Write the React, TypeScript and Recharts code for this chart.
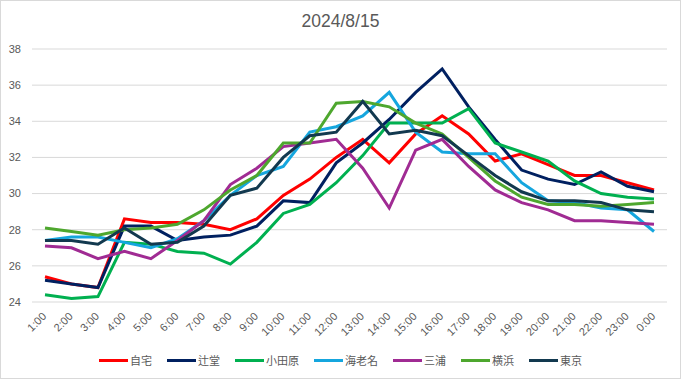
import React from 'react';
import { LineChart, Line, XAxis, YAxis, CartesianGrid } from 'recharts';

const hours = [
  '1:00', '2:00', '3:00', '4:00', '5:00', '6:00', '7:00', '8:00', '9:00', '10:00', '11:00', '12:00',
  '13:00', '14:00', '15:00', '16:00', '17:00', '18:00', '19:00', '20:00', '21:00', '22:00', '23:00', '0:00',
];

const jitaku = [25.4, 25.0, 24.8, 28.6, 28.4, 28.4, 28.3, 28.0, 28.6, 29.9, 30.8, 32.0, 33.0, 31.7, 33.3, 34.3, 33.3, 31.8, 32.2, 31.6, 31.0, 31.0, 30.6, 30.2];
const tsujido = [25.2, 25.0, 24.8, 28.2, 28.2, 27.4, 27.6, 27.7, 28.2, 29.6, 29.5, 31.7, 32.8, 34.1, 35.6, 36.9, 34.8, 33.0, 31.3, 30.8, 30.5, 31.2, 30.4, 30.1];
const odawara = [24.4, 24.2, 24.3, 27.3, 27.2, 26.8, 26.7, 26.1, 27.3, 28.9, 29.4, 30.6, 32.1, 33.9, 33.9, 33.9, 34.7, 32.8, 32.3, 31.8, 30.7, 30.0, 29.8, 29.7];
const ebina = [27.4, 27.6, 27.6, 27.3, 27.0, 27.5, 28.5, 29.9, 31.0, 31.5, 33.4, 33.7, 34.3, 35.6, 33.4, 32.3, 32.2, 32.2, 30.6, 29.6, 29.5, 29.2, 29.1, 27.9];
const miura = [27.1, 27.0, 26.4, 26.8, 26.4, 27.4, 28.5, 30.5, 31.4, 32.6, 32.8, 33.0, 31.4, 29.2, 32.4, 33.0, 31.5, 30.2, 29.5, 29.1, 28.5, 28.5, 28.4, 28.3];
const yokohama = [28.1, 27.9, 27.7, 28.0, 28.1, 28.3, 29.1, 30.2, 31.0, 32.8, 32.8, 35.0, 35.1, 34.8, 33.9, 33.3, 32.0, 30.7, 29.8, 29.4, 29.4, 29.3, 29.4, 29.5];
const tokyo = [27.4, 27.4, 27.2, 28.1, 27.2, 27.3, 28.2, 29.9, 30.3, 32.0, 33.2, 33.4, 35.1, 33.3, 33.5, 33.2, 32.1, 31.0, 30.1, 29.6, 29.6, 29.5, 29.1, 29.0];

const yTicks = [24, 26, 28, 30, 32, 34, 36, 38];

const series = [
  { key: '自宅', values: jitaku, color: '#FF0000' },
  { key: '辻堂', values: tsujido, color: '#002060' },
  { key: '小田原', values: odawara, color: '#00B050' },
  { key: '海老名', values: ebina, color: '#15A6DE' },
  { key: '三浦', values: miura, color: '#A02B93' },
  { key: '横浜', values: yokohama, color: '#4EA72E' },
  { key: '東京', values: tokyo, color: '#12394F' },
];

const data = hours.map((h, i) => {
  const row: Record<string, string | number> = { hour: h };
  series.forEach(s => { row[s.key] = s.values[i]; });
  return row;
});

const font = '"Liberation Sans", Arial, "Noto Sans CJK JP", sans-serif';
const textColor = '#595959';

// rotated hour labels, end of text just under the grid bottom
const HourTick = (props: any) => {
  const { x, y, payload } = props;
  return (
    <g transform={`translate(${x + 2},${y + 7})`}>
      <text
        x={0}
        y={0}
        textAnchor="end"
        transform="rotate(-45)"
        fontSize={11}
        fill={textColor}
        fontFamily={font}
      >
        {payload.value}
      </text>
    </g>
  );
};

const App: React.FC = () => {
  return (
    <div style={{
      position: 'absolute', left: 0, top: 0, width: 681, height: 379,
      boxSizing: 'border-box', border: '1px solid #d9d9d9', background: '#fff', fontFamily: font,
    }}>
      <div style={{
        position: 'absolute', left: 0, right: 0, top: 10, textAlign: 'center',
        fontSize: 17.5, color: textColor,
      }}>
        2024/8/15
      </div>
      <div style={{ position: 'absolute', left: -1, top: -1 }}>
        <LineChart width={681} height={379} data={data} margin={{ top: 49, right: 14, left: 0, bottom: 0 }}>
          <CartesianGrid vertical={false} stroke="#d9d9d9" strokeWidth={1} />
          <XAxis
            dataKey="hour"
            axisLine={false}
            tickLine={false}
            interval={0}
            height={77}
            padding={{ left: 13, right: 13 }}
            tick={<HourTick />}
          />
          <YAxis
            width={32}
            domain={[24, 38]}
            ticks={yTicks}
            axisLine={false}
            tickLine={false}
            tickMargin={5}
            tick={{ fontSize: 11, fill: textColor, fontFamily: font }}
          />
          {series.map(s => (
            <Line
              key={s.key}
              type="linear"
              dataKey={s.key}
              stroke={s.color}
              strokeWidth={3}
              dot={false}
              isAnimationActive={false}
            />
          ))}
        </LineChart>
      </div>
      <div style={{
        position: 'absolute', left: 0, right: 0, top: 351, display: 'flex',
        justifyContent: 'center', gap: 15, fontSize: 11, color: textColor,
      }}>
        {series.map(s => (
          <div key={s.key} style={{ display: 'flex', alignItems: 'center' }}>
            <span style={{ display: 'inline-block', width: 29, height: 3, background: s.color, marginRight: 2 }} />
            <span>{s.key}</span>
          </div>
        ))}
      </div>
    </div>
  );
};

export default App;
